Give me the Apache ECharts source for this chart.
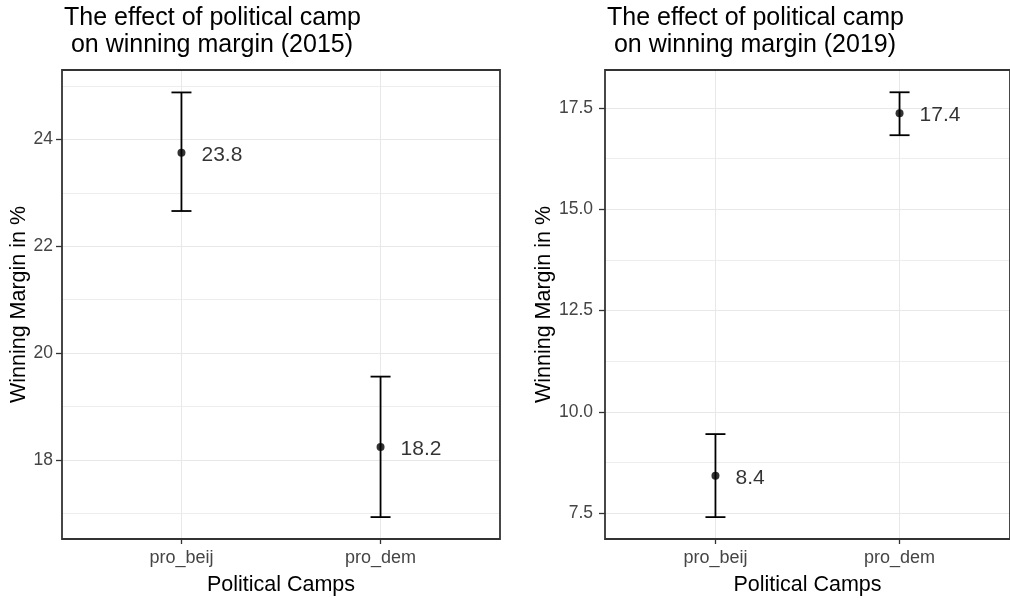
<!DOCTYPE html>
<html>
<head>
<meta charset="utf-8">
<script src="https://cdn.jsdelivr.net/npm/echarts@6/dist/echarts.min.js"></script>
<style>
html,body{margin:0;padding:0;background:#fff;}
#chart{width:1010px;height:601px;}
</style>
</head>
<body>
<div id="chart"></div>
<script>
// ---- data ----
const categories = ['pro_beij', 'pro_dem'];
const catPos = [1, 2];

const mean2015 = [23.75, 18.24];
const lower2015 = [22.66, 16.93];
const upper2015 = [24.88, 19.56];
const labels2015 = ['23.8', '18.2'];

const mean2019 = [8.42, 17.37];
const lower2019 = [7.40, 16.83];
const upper2019 = [9.45, 17.89];
const labels2019 = ['8.4', '17.4'];

const yTicks2015 = [18, 20, 22, 24];
const yMinor2015 = [17, 19, 21, 23, 25];
const yTicks2019 = [7.5, 10.0, 12.5, 15.0, 17.5];
const yMinor2019 = [8.75, 11.25, 13.75, 16.25];

const titles = ['The effect of political camp\n on winning margin (2015)',
                'The effect of political camp\n on winning margin (2019)'];
const xTitle = 'Political Camps';
const yTitle = 'Winning Margin in %';

// ---- chart ----
const FONT = 'Liberation Sans, Arial, sans-serif';
const GRID_COLOR = '#e8e8e8';
const chart = echarts.init(document.getElementById('chart'), null, {renderer: 'canvas'});

function xAxisCfg(gi) {
  return {
    type: 'value', gridIndex: gi, min: 0.4, max: 2.6,
    name: xTitle, nameLocation: 'middle', nameGap: 35,
    nameTextStyle: {fontFamily: FONT, fontSize: 21.5, color: '#000'},
    axisLine: {show: false},
    axisTick: {show: true, length: 5, customValues: catPos, lineStyle: {color: '#333', width: 1.3}},
    axisLabel: {show: true, customValues: catPos, margin: 10, fontFamily: FONT, fontSize: 18, color: '#454545',
      formatter: v => categories[Math.round(v) - 1]},
    splitLine: {show: true, lineStyle: {color: GRID_COLOR, width: 1}}
  };
}
function yAxisCfg(gi, min, max, ticks, fmt, nameGap, margin) {
  return {
    type: 'value', gridIndex: gi, min: min, max: max,
    name: yTitle, nameLocation: 'middle', nameGap: nameGap,
    nameTextStyle: {fontFamily: FONT, fontSize: 21.5, color: '#000'},
    axisLine: {show: false},
    axisTick: {show: true, length: 6, customValues: ticks, lineStyle: {color: '#333', width: 1.3}},
    axisLabel: {show: true, customValues: ticks, margin: margin, fontFamily: FONT, fontSize: 17.5, color: '#454545', formatter: fmt},
    splitLine: {show: true, lineStyle: {color: GRID_COLOR, width: 1}}
  };
}
function yMinorCfg(gi, min, max, ticks) {
  return {
    type: 'value', gridIndex: gi, min: min, max: max, position: 'left',
    axisLine: {show: false},
    axisTick: {show: false, customValues: ticks},
    axisLabel: {show: false, customValues: ticks},
    splitLine: {show: true, lineStyle: {color: GRID_COLOR, width: 0.8}}
  };
}
function errSeries(xi, yi, lower, upper) {
  return {
    type: 'custom', xAxisIndex: xi, yAxisIndex: yi, z: 5,
    data: catPos.map((c, i) => [c, lower[i], upper[i]]),
    renderItem: function (params, api) {
      const x = api.value(0);
      const lo = api.coord([x, api.value(1)]);
      const hi = api.coord([x, api.value(2)]);
      const hw = 10;
      const style = {stroke: '#000', lineWidth: 1.8, fill: null};
      return {
        type: 'group',
        children: [
          {type: 'line', shape: {x1: lo[0], y1: lo[1], x2: hi[0], y2: hi[1]}, style: style},
          {type: 'line', shape: {x1: lo[0] - hw, y1: lo[1], x2: lo[0] + hw, y2: lo[1]}, style: style},
          {type: 'line', shape: {x1: hi[0] - hw, y1: hi[1], x2: hi[0] + hw, y2: hi[1]}, style: style}
        ]
      };
    }
  };
}
function pointSeries(xi, yi, mean, labels) {
  return {
    type: 'scatter', xAxisIndex: xi, yAxisIndex: yi, z: 6,
    symbol: 'circle', symbolSize: 8,
    itemStyle: {color: '#000'},
    data: catPos.map((c, i) => ({value: [c, mean[i]], label: {formatter: labels[i]}})),
    label: {show: true, position: 'right', distance: 16, offset: [0, 2], fontFamily: FONT, fontSize: 21, color: '#000'},
    emphasis: {disabled: true}
  };
}

const titleStyle = {fontFamily: FONT, fontSize: 25, fontWeight: 'normal', color: '#000', lineHeight: 27};
const option = {
  animation: false,
  backgroundColor: '#fff',
  title: [
    {text: titles[0], left: 64, top: 5, padding: 0, textStyle: titleStyle},
    {text: titles[1], left: 607, top: 5, padding: 0, textStyle: titleStyle}
  ],
  grid: [
    {left: 62, top: 70, width: 438, height: 474, show: true, borderColor: '#333', borderWidth: 1.8, backgroundColor: 'transparent', z: 3},
    {left: 605, top: 70, width: 408, height: 474, show: true, borderColor: '#333', borderWidth: 1.8, backgroundColor: 'transparent', z: 3}
  ],
  xAxis: [xAxisCfg(0), xAxisCfg(1)],
  yAxis: [
    yAxisCfg(0, 16.52, 25.30, yTicks2015, v => String(v), 31, 9),
    yAxisCfg(1, 6.86, 18.44, yTicks2019, v => v.toFixed(1), 45, 12),
    yMinorCfg(0, 16.52, 25.30, yMinor2015),
    yMinorCfg(1, 6.86, 18.44, yMinor2019)
  ],
  series: [
    errSeries(0, 0, lower2015, upper2015),
    pointSeries(0, 0, mean2015, labels2015),
    errSeries(1, 1, lower2019, upper2019),
    pointSeries(1, 1, mean2019, labels2019)
  ]
};
chart.setOption(option);
</script>
</body>
</html>
